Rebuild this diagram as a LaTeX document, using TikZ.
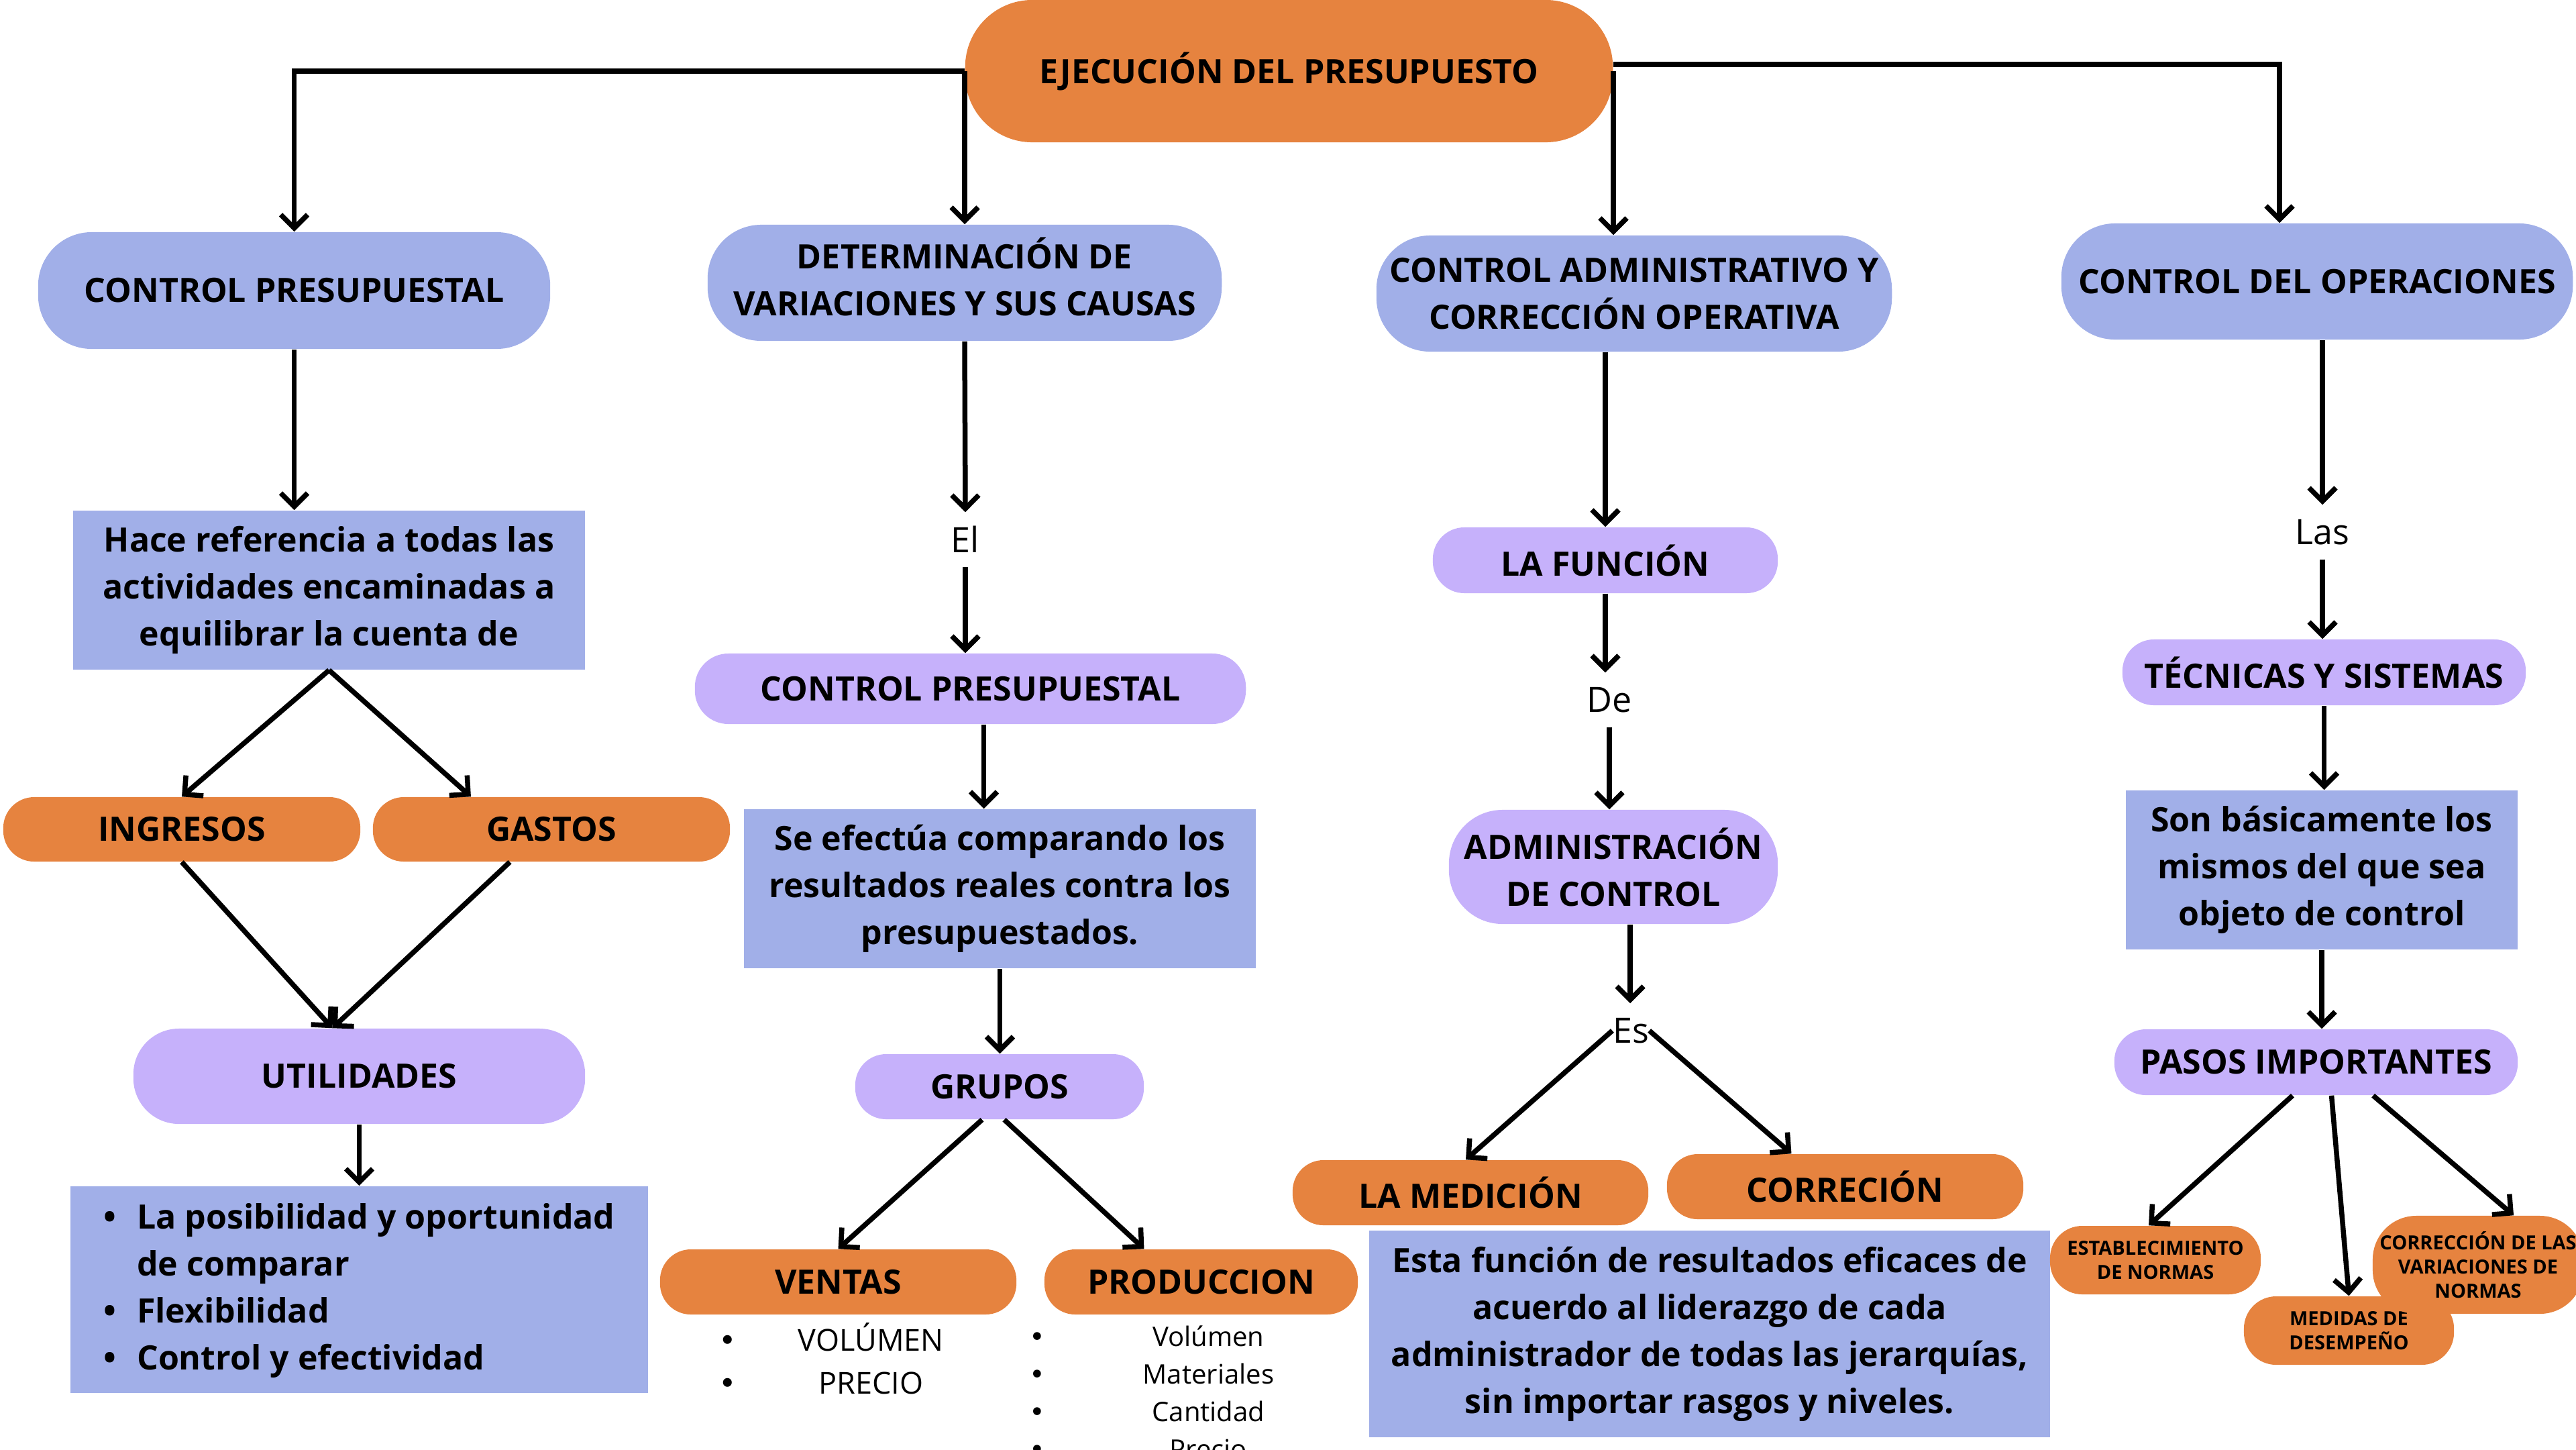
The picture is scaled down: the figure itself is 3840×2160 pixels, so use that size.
\documentclass[tikz,border=0pt]{standalone}
\usepackage{fontspec}
\setmainfont{Open Sans}
\newfontfamily\dejavu{DejaVu Sans}
\usetikzlibrary{arrows.meta,calc}
\definecolor{cblue}{RGB}{161,175,232}
\definecolor{cpurp}{RGB}{198,177,251}
\definecolor{corng}{RGB}{230,131,63}
\newcommand{\bigbul}{{\dejavu •}}
\begin{document}
\begin{tikzpicture}[x=0.01cm,y=-0.01cm,
  txt/.style={inner sep=0pt, align=center, text=black, font=\bfseries\fontsize{14.23}{19.9}\selectfont},
  smalltxt/.style={inner sep=0pt, align=center, text=black, font=\bfseries\fontsize{8.25}{10.3}\selectfont},
  pill/.style={rounded corners=#1},
  bbox/.style={txt, fill=cblue},
  lbl/.style={inner sep=0pt, minimum height=0.8cm, text=black, font=\fontsize{14.8}{19.9}\selectfont},
  arr/.style={line width=0.075cm, -{Straight Barb[length=0.2cm,width=0.4cm]}}
]
\useasboundingbox (0,0) rectangle (3840,2160);
\clip (0,0) rectangle (3840,2160);

% top
\node[txt, pill=1cm, fill=corng, minimum width=9.65cm, minimum height=2.12cm] (top) at (1921.5,106) {EJECUCIÓN DEL PRESUPUESTO};

% level 2
\node[txt, pill=0.8cm, fill=cblue, minimum width=7.63cm, minimum height=1.74cm] (cp) at (438.5,433) {CONTROL PRESUPUESTAL};
\node[txt, pill=0.8cm, fill=cblue, minimum width=7.66cm, minimum height=1.73cm] (det) at (1438,421.5) {\raisebox{0.04cm}{\begin{tabular}{@{}c@{}}DETERMINACIÓN DE\\VARIACIONES Y SUS CAUSAS\end{tabular}}};
\node[txt, pill=0.8cm, fill=cblue, minimum width=7.68cm, minimum height=1.73cm] (adm) at (2436,437.5) {CONTROL ADMINISTRATIVO Y\\CORRECCIÓN OPERATIVA};
\node[txt, pill=0.8cm, fill=cblue, minimum width=7.62cm, minimum height=1.73cm] (ops) at (3454,419.5) {CONTROL DEL OPERACIONES};

% column 1
\node[bbox, minimum width=7.63cm, minimum height=2.37cm] (hace) at (490.5,879.5) {Hace referencia a todas las\\actividades encaminadas a\\equilibrar la cuenta de};
\node[txt, pill=0.46cm, fill=corng, minimum width=5.32cm, minimum height=0.96cm] (ing) at (271,1236) {INGRESOS};
\node[txt, pill=0.46cm, fill=corng, minimum width=5.32cm, minimum height=0.96cm] (gas) at (822,1236) {GASTOS};
\node[txt, pill=0.68cm, fill=cpurp, minimum width=6.73cm, minimum height=1.42cm] (util) at (535.5,1604) {UTILIDADES};
\node[bbox, minimum width=8.61cm, minimum height=3.08cm] (lst) at (535.5,1922) {\raisebox{-0.05cm}{\begin{tabular}{@{}l@{\hspace{0.31cm}}l@{}}\textbullet & La posibilidad y oportunidad\\ & de comparar\\ \textbullet & Flexibilidad\\ \textbullet & Control y efectividad\end{tabular}}};

% column 2
\node[lbl] (el) at (1439,804) {El};
\node[txt, pill=0.5cm, fill=cpurp, minimum width=8.21cm, minimum height=1.05cm] (cp2) at (1446.5,1026.5) {CONTROL PRESUPUESTAL};
\node[bbox, minimum width=7.63cm, minimum height=2.37cm] (efe) at (1490.5,1324.5) {Se efectúa comparando los\\resultados reales contra los\\presupuestados.};
\node[txt, pill=0.46cm, fill=cpurp, minimum width=4.30cm, minimum height=0.97cm] (grp) at (1490,1619.5) {GRUPOS};
\node[txt, pill=0.46cm, fill=corng, minimum width=5.31cm, minimum height=0.97cm] (ven) at (1249.5,1910.5) {VENTAS};
\node[txt, pill=0.46cm, fill=corng, minimum width=4.67cm, minimum height=0.97cm] (prod) at (1790.5,1910.5) {PRODUCCION};
\node[inner sep=0pt, text=black, font=\fontsize{12.8}{18.2}\selectfont] (venl) at (1239,2032.5) {\begin{tabular}{@{}c@{\hspace{0.92cm}}c@{}}\bigbul & VOLÚMEN\\ \bigbul & PRECIO\end{tabular}};
\node[inner sep=0pt, text=black, font=\fontsize{11.4}{15.9}\selectfont] (prodl) at (1717,2079) {\begin{tabular}{@{}c@{\hspace{1.45cm}}c@{}}\bigbul & Volúmen\\ \bigbul & Materiales\\ \bigbul & Cantidad\\ \bigbul & Precio\end{tabular}};

% column 3
\node[txt, pill=0.47cm, fill=cpurp, minimum width=5.14cm, minimum height=0.98cm] (fun) at (2393,835) {LA FUNCIÓN};
\node[lbl] (de) at (2399,1043) {De};
\node[txt, pill=0.8cm, fill=cpurp, minimum width=4.90cm, minimum height=1.70cm] (actl) at (2405,1292) {ADMINISTRACIÓN\\DE CONTROL};
\node[lbl] (es) at (2431,1536) {Es};
\node[txt, pill=0.46cm, fill=corng, minimum width=5.30cm, minimum height=0.97cm] (med) at (2192,1777.5) {LA MEDICIÓN};
\node[txt, pill=0.46cm, fill=corng, minimum width=5.31cm, minimum height=0.97cm] (corr) at (2750.5,1768.5) {CORRECIÓN};
\node[bbox, minimum width=10.15cm, minimum height=3.08cm] (esta) at (2548.5,1988) {Esta función de resultados eficaces de\\acuerdo al liderazgo de cada\\administrador de todas las jerarquías,\\sin importar rasgos y niveles.};

% column 4
\node[lbl] (las) at (3462,793) {Las};
\node[txt, pill=0.47cm, fill=cpurp, minimum width=6.01cm, minimum height=0.98cm] (tec) at (3464.5,1002) {TÉCNICAS Y SISTEMAS};
\node[bbox, minimum width=5.84cm, minimum height=2.37cm] (son) at (3461,1296.5) {Son básicamente los\\mismos del que sea\\objeto de control};
\node[txt, pill=0.47cm, fill=cpurp, minimum width=6.01cm, minimum height=0.98cm] (pas) at (3452.5,1583) {PASOS IMPORTANTES};
\node[smalltxt, pill=0.48cm, fill=corng, minimum width=3.14cm, minimum height=1.02cm] (est) at (3213,1878) {ESTABLECIMIENTO\\DE NORMAS};
\node[smalltxt, pill=0.48cm, fill=corng, minimum width=3.13cm, minimum height=1.02cm] (mdd) at (3501.5,1983) {MEDIDAS DE\\DESEMPEÑO};
\node[smalltxt, pill=0.65cm, fill=corng, minimum width=3.14cm, minimum height=1.46cm] (cvn) at (3694,1885) {CORRECCIÓN DE LAS\\VARIACIONES DE\\NORMAS};

% connectors from top
\draw[arr] (top.west) -| (cp.north);
\draw[arr] (top.west) -- (top.west |- det.north);
\draw[arr] ([yshift=0.1cm]top.east) -| ([xshift=-0.56cm]ops.north);
\draw[arr] (top.east) -- (top.east |- adm.north);

% column 1
\draw[arr] (cp.south) -- (cp.south |- hace.north);
\draw[arr] (hace.south) -- (ing.north);
\draw[arr] (hace.south) -- ([xshift=-1.2cm]gas.north);
\draw[arr] (ing.south) -- ([xshift=-0.4cm]util.north);
\draw[arr] ([xshift=-0.62cm]gas.south) -- ([xshift=-0.4cm]util.north);
\draw[arr] (util.south) -- (util.south |- lst.north);

% column 2
\draw[arr] (det.south) -- (el.north);
\draw[arr] (el.south) -- (el.south |- cp2.north);
\draw[arr] ([xshift=0.2cm]cp2.south) -- ([xshift=0.2cm]cp2.south |- efe.north);
\draw[arr] (efe.south) -- (efe.south |- grp.north);
\draw[arr] ([xshift=-0.26cm]grp.south) -- (ven.north);
\draw[arr] ([xshift=0.07cm]grp.south) -- ([xshift=-0.85cm]prod.north);

% column 3
\draw[arr] (adm.south -| fun.north) -- (fun.north);
\draw[arr] (fun.south) -- (fun.south |- de.north);
\draw[arr] (de.south) -- (de.south |- actl.north);
\draw[arr] ([xshift=0.25cm]actl.south) -- ([xshift=0.25cm]actl.south |- es.north);
\draw[arr] (es.west) -- ([xshift=-0.07cm]med.north);
\draw[arr] (es.east) -- ([xshift=-0.8cm]corr.north);

% column 4
\draw[arr] (ops.south -| las.north) -- (las.north);
\draw[arr] (las.south) -- (las.south |- tec.north);
\draw[arr] (tec.south) -- (tec.south |- son.north);
\draw[arr] (son.south) -- (son.south |- pas.north);
\draw[arr] ([xshift=-0.35cm]pas.south) -- ([xshift=-0.1cm]est.north);
\draw[arr] ([xshift=0.23cm]pas.south) -- (mdd.north);
\draw[arr] ([xshift=0.85cm]pas.south) -- ([xshift=0.53cm]cvn.north);
\end{tikzpicture}
\end{document}
